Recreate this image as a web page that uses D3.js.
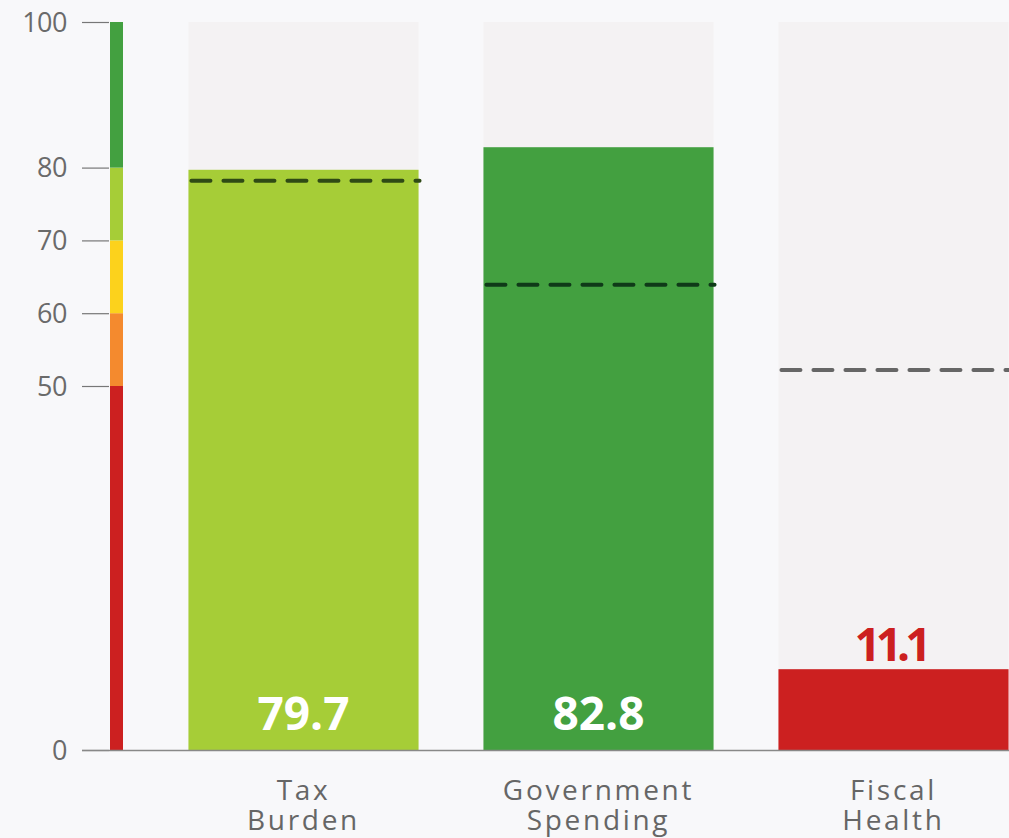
<!DOCTYPE html>
<html><head><meta charset="utf-8">
<script src="https://cdn.jsdelivr.net/npm/d3@7"></script>
<style>
html,body{margin:0;padding:0;background:#f8f8fa;}
svg{display:block;}
</style></head>
<body>
<svg id="chart" width="1009" height="838"></svg>
<script>
const categories = ["Tax Burden", "Government Spending", "Fiscal Health"];
const scores = [79.7, 82.8, 11.1];
const averages = [78.2, 63.9, 52.2];
const barColors = ["#a6cd37", "#43a040", "#cc2020"];
const dashColors = ["#2f4a15", "#0f3a18", "#666666"];
const tickValues = [0, 50, 60, 70, 80, 100];
const bandStops = [0, 50, 60, 70, 80, 100];
const bandColors = ["#cc2020", "#f48a2e", "#fcd21c", "#a6cd37", "#43a040"];

const svg = d3.select("#chart");
const y = d3.scaleLinear().domain([0, 100]).range([750, 22]);
const x = d3.scaleBand().domain(categories).range([156, 1041]).paddingInner(0.22).paddingOuter(0.11);

// bar backgrounds
svg.selectAll("rect.bg").data(categories).join("rect")
  .attr("class","bg")
  .attr("x", d => x(d)).attr("width", x.bandwidth())
  .attr("y", y(100)).attr("height", y(0) - y(100))
  .attr("fill", "#f4f2f3");

// bars
svg.selectAll("rect.bar").data(scores).join("rect")
  .attr("class","bar")
  .attr("x", (d,i) => x(categories[i])).attr("width", x.bandwidth())
  .attr("y", d => y(d)).attr("height", d => y(0) - y(d))
  .attr("fill", (d,i) => barColors[i]);

// colour band
const bands = bandColors.map((c,i) => ({c, a: bandStops[i], b: bandStops[i+1]}));
svg.selectAll("rect.band").data(bands).join("rect")
  .attr("class","band")
  .attr("x", 110).attr("width", 13)
  .attr("y", d => y(d.b)).attr("height", d => y(d.a) - y(d.b))
  .attr("fill", d => d.c);

// axis
const axis = d3.axisLeft(y).tickValues(tickValues).tickSize(27).tickPadding(15);
const ag = svg.append("g").attr("transform","translate(109,0)").call(axis);
ag.select(".domain").remove();
ag.selectAll(".tick line").attr("stroke","#777").attr("stroke-width",1.2);
ag.selectAll(".tick text").attr("fill","#6a6a6a").attr("font-family","Open Sans, sans-serif")
  .attr("font-size",27).attr("dy","0.34em").attr("letter-spacing",-0.5);

// baseline
svg.append("line").attr("x1",82).attr("x2",1009).attr("y1",y(0)+0.5).attr("y2",y(0)+0.5)
  .attr("stroke","#888").attr("stroke-width",1.3);

// average dashed lines
svg.selectAll("line.avg").data(averages).join("line")
  .attr("class","avg")
  .attr("x1",(d,i) => x(categories[i]) - 1).attr("x2",(d,i) => x(categories[i]) + x.bandwidth() + 1)
  .attr("y1", d => y(d)).attr("y2", d => y(d))
  .attr("stroke",(d,i) => dashColors[i]).attr("stroke-width",4)
  .attr("stroke-dasharray","19 13").attr("stroke-linecap","round")
  .attr("stroke-dashoffset", -4);

// value labels
svg.selectAll("text.val").data(scores).join("text")
  .attr("class","val")
  .attr("x",(d,i) => x(categories[i]) + x.bandwidth()/2 - (d < 30 ? 3 : 0))
  .attr("y", d => d < 30 ? y(d) - 8 : y(0) - 20)
  .attr("text-anchor","middle")
  .attr("font-family","Open Sans, sans-serif").attr("font-weight","bold")
  .attr("font-size", 46)
  .attr("letter-spacing", d => d < 30 ? -5 : 0)
  .attr("fill",(d,i) => d < 30 ? barColors[i] : "#ffffff")
  .text(d => d.toFixed(1));

// category labels
svg.selectAll("text.cat").data(categories).join("text")
  .attr("class","cat")
  .attr("x", d => x(d) + x.bandwidth()/2)
  .attr("y", 800)
  .attr("text-anchor","middle")
  .attr("font-family","Open Sans, sans-serif").attr("font-size",28)
  .attr("letter-spacing",2.7)
  .attr("fill","#666")
  .each(function(d){
    const words = d.split(" ");
    const t = d3.select(this);
    words.forEach((w,i) => t.append("tspan").attr("x", x(d) + x.bandwidth()/2).attr("dy", i===0?0:30).text(w));
  });
</script>
</body></html>
